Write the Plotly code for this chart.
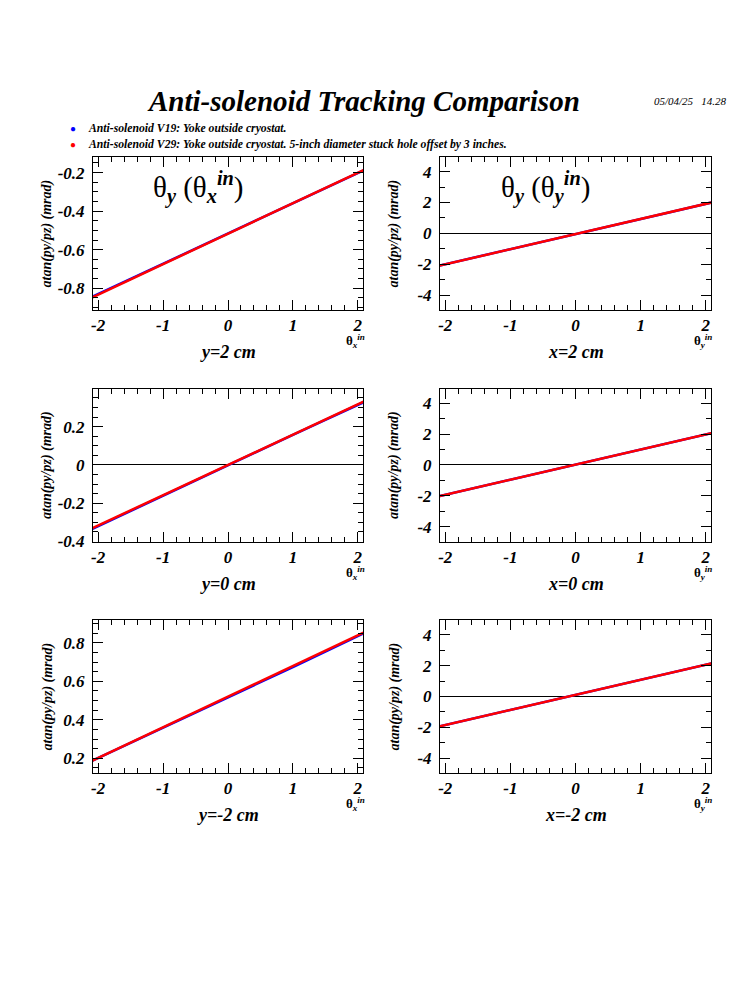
import plotly.graph_objects as go

# theta_in sample points (mrad) shared by all panels
theta_in = [-2.1, -1.5, -1.0, -0.5, 0.0, 0.5, 1.0, 1.5, 2.1]

# theta_y(theta_x^in), left column, y = 2, 0, -2 cm
v19_y2 = [-0.846, -0.752, -0.673, -0.595, -0.517, -0.438, -0.359, -0.280, -0.186]
v29_y2 = [-0.849, -0.754, -0.675, -0.596, -0.517, -0.438, -0.359, -0.280, -0.185]
v19_y0 = [-0.336, -0.240, -0.160, -0.080, 0.000, 0.078, 0.157, 0.235, 0.329]
v29_y0 = [-0.332, -0.237, -0.158, -0.079, 0.000, 0.079, 0.158, 0.237, 0.332]
v19_ym2 = [0.186, 0.280, 0.358, 0.437, 0.516, 0.595, 0.674, 0.754, 0.850]
v29_ym2 = [0.186, 0.282, 0.361, 0.441, 0.520, 0.600, 0.679, 0.759, 0.854]

# theta_y(theta_y^in), right column, x = 2, 0, -2 cm
v19_x2 = [-2.10, -1.52, -1.03, -0.54, -0.05, 0.44, 0.93, 1.42, 2.01]
v29_x2 = [-2.11, -1.52, -1.03, -0.54, -0.05, 0.44, 0.93, 1.42, 2.01]
v19_x0 = [-2.04, -1.45, -0.96, -0.47, 0.02, 0.51, 1.00, 1.49, 2.08]
v29_x0 = [-2.04, -1.45, -0.96, -0.47, 0.02, 0.51, 1.00, 1.49, 2.08]
v19_xm2 = [-1.96, -1.37, -0.88, -0.39, 0.10, 0.59, 1.08, 1.57, 2.16]
v29_xm2 = [-1.96, -1.37, -0.88, -0.39, 0.10, 0.59, 1.08, 1.57, 2.16]

# tick labels (plain hyphen minus like the original)
x_ticks = [-2, -1, 0, 1, 2]
x_ticktext = ["-2", "-1", "0", "1", "2"]
y_ticks_top = [-0.8, -0.6, -0.4, -0.2]
y_ticks_mid = [-0.4, -0.2, 0, 0.2]
y_ticks_bot = [0.2, 0.4, 0.6, 0.8]
y_ticks_right = [-4, -2, 0, 2, 4]

legend_labels = [
    "Anti-solenoid V19: Yoke outside cryostat.",
    "Anti-solenoid V29: Yoke outside cryostat. 5-inch diameter stuck hole offset by 3 inches.",
]
colors = ["#0000ff", "#ff0000"]

FONT = "Liberation Serif"
# page body has an 8px margin, so the figure is a bit smaller than the window
W, H = 742, 992
OFF = 8

# (v19, v29, x label, y range, y ticks, y minor, column, row)
panels = [
    (v19_y2, v29_y2, "y=2 cm", [-0.913, -0.119], y_ticks_top, 0.05, 0, 0),
    (v19_x2, v29_x2, "x=2 cm", [-4.97, 4.95], y_ticks_right, 1, 1, 0),
    (v19_y0, v29_y0, "y=0 cm", [-0.4, 0.399], y_ticks_mid, 0.05, 0, 1),
    (v19_x0, v29_x0, "x=0 cm", [-4.97, 4.96], y_ticks_right, 1, 1, 1),
    (v19_ym2, v29_ym2, "y=-2 cm", [0.124, 0.918], y_ticks_bot, 0.05, 0, 2),
    (v19_xm2, v29_xm2, "x=-2 cm", [-4.97, 4.96], y_ticks_right, 1, 1, 2),
]

col_px = [(93, 363), (440, 711)]
row_px = [(157, 310), (388.5, 541.5), (620, 773)]


def px(x):
    return (x - OFF) / W


def py(y):
    return 1 - (y - OFF) / H


def note(x, y, text, font, **kw):
    d = dict(x=px(x), y=py(y), xref="paper", yref="paper", text=text, showarrow=False,
             xanchor="center", yanchor="middle", font=font)
    d.update(kw)
    return d


def bi(size, **kw):
    f = dict(family=FONT, size=size, color="black", weight="bold", style="italic")
    f.update(kw)
    return f


fig = go.Figure()
layout = {}
annotations = []

for i, (blue, red, xlab, yr, yt, ymin, c, r) in enumerate(panels):
    n = "" if i == 0 else str(i + 1)
    x0, x1 = col_px[c]
    y0, y1 = row_px[r]
    fig.add_trace(go.Scatter(x=theta_in, y=blue, mode="lines", line=dict(color=colors[0], width=2.5),
                             xaxis="x" + n, yaxis="y" + n, showlegend=False))
    fig.add_trace(go.Scatter(x=theta_in, y=red, mode="lines", line=dict(color=colors[1], width=2.5),
                             xaxis="x" + n, yaxis="y" + n, showlegend=False))
    layout["xaxis" + n] = dict(
        domain=[px(x0), px(x1)], anchor="y" + n, range=[-2.08, 2.08],
        showline=True, linecolor="black", linewidth=1, mirror="ticks",
        ticks="inside", ticklen=10, tickcolor="black",
        tickvals=x_ticks, ticktext=x_ticktext,
        minor=dict(dtick=0.2, tick0=0, ticklen=5, ticks="inside", tickcolor="black"),
        showgrid=False, zeroline=False, tickfont=bi(17), automargin=False,
    )
    layout["yaxis" + n] = dict(
        domain=[py(y1), py(y0)], anchor="x" + n, range=yr,
        showline=True, linecolor="black", linewidth=1, mirror="ticks",
        ticks="inside", ticklen=10, tickcolor="black",
        tickvals=yt, ticktext=["%g" % v for v in yt],
        minor=dict(dtick=ymin, tick0=0, ticklen=5, ticks="inside", tickcolor="black"),
        showgrid=False, zeroline=True, zerolinecolor="black", zerolinewidth=1,
        tickfont=bi(17), ticklabelstandoff=4, automargin=False,
    )
    # x title under the panel
    annotations.append(note((x0 + x1) / 2, y1 + 42, xlab, bi(18)))
    # y title
    annotations.append(note(x0 - 46, (y0 + y1) / 2, "atan(py/pz) (mrad)", bi(14), textangle=-90))
    # theta^in label at the end of the x axis
    sub = "x" if c == 0 else "y"
    annotations.append(note(x1 - 8, y1 + 31, "θ<sub><i>" + sub + "</i></sub><sup><i>in</i></sup>",
                            dict(family=FONT, size=13, color="black", weight="bold")))

# big panel labels on the top row
for c, sub in [(0, "x"), (1, "y")]:
    x0, x1 = col_px[c]
    annotations.append(note(x0 + 105, 188,
                            "θ<sub><b><i>y</i></b></sub> (θ<sub><b><i>" + sub + "</i></b></sub>"
                            "<sup><b><i>in</i></b></sup>)",
                            dict(family=FONT, size=29, color="black")))

# title and date
annotations.append(note(363, 101, "Anti-solenoid Tracking Comparison", bi(29)))
annotations.append(note(690, 101, "05/04/25   14.28", dict(family=FONT, size=11, color="black", style="italic")))

# legend
for k, (lab, col) in enumerate(zip(legend_labels, colors)):
    yy = 129 + 16 * k
    annotations.append(note(73, yy, "●", dict(family=FONT, size=10, color=col)))
    annotations.append(note(86, yy, lab, bi(11.7), xanchor="left"))

fig.update_layout(
    width=W, height=H,
    margin=dict(l=0, r=0, t=0, b=0),
    paper_bgcolor="white", plot_bgcolor="white",
    annotations=annotations,
    **layout,
)

fig.write_html("out.html")
